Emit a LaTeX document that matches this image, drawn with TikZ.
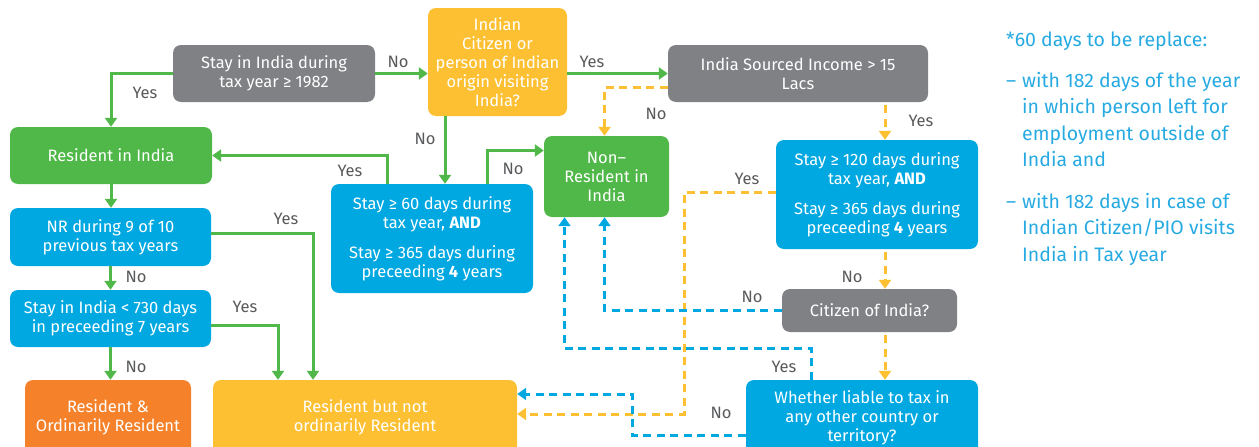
\documentclass[tikz,border=0pt]{standalone}
\usepackage{fontspec}
\setmainfont{Fira Sans}
\usetikzlibrary{arrows.meta}
\definecolor{boxgray}{HTML}{808184}
\definecolor{flowgreen}{HTML}{50B848}
\definecolor{flowyellow}{HTML}{FDC033}
\definecolor{flowblue}{HTML}{00A8E1}
\definecolor{floworange}{HTML}{F5822B}
\definecolor{lblgray}{HTML}{58595B}
\definecolor{noteblue}{HTML}{27AAE1}

\begin{document}
\begin{tikzpicture}[x=1pt, y=-1pt,
            box/.style = {rounded corners=8pt, text=white, align=center, inner sep=1pt,
                          font=\fontsize{16.5}{19}\selectfont},
            lbl/.style = {text=lblgray, inner sep=0pt, font=\fontsize{16.5}{19}\selectfont},
            tip/.style = {-{Triangle[width=12pt,length=9pt]}},
            gline/.style = {tip, line width=3pt, draw=flowgreen},
            yline/.style = {tip, line width=3pt, draw=flowyellow, dash pattern=on 8pt off 5.5pt},
            bline/.style = {tip, line width=3pt, draw=flowblue, dash pattern=on 8pt off 5.5pt}
            ]
    \clip (0,0) rectangle (1259,447);

    % boxes
    \node[box, fill=boxgray, minimum width=202pt, minimum height=57pt] (stayyear) at (274,73.5)
        {Stay in India during\\tax year ≥ 1982};
    \node[box, fill=flowyellow, minimum width=139pt, minimum height=108pt] (citizen) at (497.5,62)
        {Indian\\Citizen or\\person of Indian\\origin visiting\\India?};
    \node[box, fill=boxgray, minimum width=260pt, minimum height=57pt] (income) at (798,73.5)
        {India Sourced Income > 15\\Lacs};
    \node[box, fill=flowgreen, minimum width=202pt, minimum height=57pt] (resident) at (111,155.5)
        {Resident in India};
    \node[box, fill=flowblue, minimum width=202pt, minimum height=109pt] (stay60) at (432,238.5)
        {Stay ≥ 60 days during\\tax year, \textbf{AND}\\[11pt]Stay ≥ 365 days during\\preceeding \textbf{4} years};
    \node[box, fill=flowgreen, minimum width=125pt, minimum height=81pt] (nonres) at (606.5,176.5)
        {Non–\\Resident in\\India};
    \node[box, fill=flowblue, minimum width=202pt, minimum height=109pt] (stay120) at (877,194.5)
        {Stay ≥ 120 days during\\tax year, \textbf{AND}\\[11pt]Stay ≥ 365 days during\\preceeding \textbf{4} years};
    \node[box, fill=flowblue, minimum width=201pt, minimum height=58pt] (nrnine) at (110.5,237)
        {NR during 9 of 10\\previous tax years};
    \node[box, fill=flowblue, minimum width=201pt, minimum height=57pt] (stay730) at (110.5,318.5)
        {Stay in India < 730 days\\in preceeding 7 years};
    \node[box, fill=floworange, minimum width=166pt, minimum height=75pt] (ror) at (108,417.5)
        {Resident \&\\Ordinarily Resident};
    \node[box, fill=flowyellow, minimum width=304pt, minimum height=75pt] (rnor) at (365,417.5)
        {Resident but not\\ordinarily Resident};
    \node[box, fill=boxgray, minimum width=175pt, minimum height=43pt] (citindia) at (869.5,310.5)
        {Citizen of India?};
    \node[box, fill=flowblue, minimum width=232pt, minimum height=76pt] (liable) at (862,418)
        {Whether liable to tax in\\any other country or\\territory?};

    % turning points
    \coordinate (yturn) at (684,414);
    \coordinate (bturn) at (600,348);
    \coordinate (bno) at (632,394);

    % green connectors
    \draw[gline] (stayyear.west) -| (resident.north);
    \draw[gline] (stayyear.east) -- (stayyear.east -| citizen.west);
    \draw[gline] (income.west -| citizen.east) -- (income.west);
    \draw[gline] ([xshift=13pt]stay60.north |- citizen.south) -- ([xshift=13pt]stay60.north);
    \draw[gline] ([xshift=-45pt]stay60.north) |- (resident.east);
    \draw[gline] ([xshift=55pt]stay60.north) |- ([yshift=26pt]nonres.west);
    \draw[gline] (resident.south) -- (resident.south |- nrnine.north);
    \draw[gline] ([yshift=4pt]nrnine.east) -| ([xshift=-52pt]rnor.north);
    \draw[gline] (nrnine.south) -- (nrnine.south |- stay730.north);
    \draw[gline] ([yshift=-7pt]stay730.east) -| ([xshift=-87pt]rnor.north);
    \draw[gline] (stay730.south) -- (stay730.south |- ror.north);

    % yellow connectors
    \draw[yline] ([yshift=-14pt]income.west) -| ([xshift=-2pt]nonres.north);
    \draw[yline] ([xshift=8pt,yshift=-3pt]stay120.north |- income.south) -- ([xshift=8pt]stay120.north);
    \draw[yline] ([yshift=2pt]stay120.west) -| (yturn) -- (yturn -| rnor.east);
    \draw[yline] ([xshift=8pt,yshift=-3pt]stay120.south) -- ([xshift=8pt]stay120.south |- citindia.north);
    \draw[yline] ([xshift=15.5pt,yshift=-3pt]citindia.south) -- ([xshift=23pt]liable.north);

    % blue connectors
    \draw[bline] (citindia.west) -| ([xshift=-2pt]nonres.south);
    \draw[bline] ([xshift=-51pt]liable.north) |- (bturn) -| ([xshift=-42pt]nonres.south);
    \draw[bline] ([yshift=-17pt]liable.west) -| (bno) -- (bno -| rnor.east);

    % answers
    \node[lbl] (l1) at (145,93) {Yes};
    \node[lbl] (l2) at (398,62) {No};
    \node[lbl] (l3) at (592,62) {Yes};
    \node[lbl] (l4) at (425,139) {No};
    \node[lbl] (l5) at (350,171) {Yes};
    \node[lbl] (l6) at (513,169) {No};
    \node[lbl] (l7) at (286,219) {Yes};
    \node[lbl] (l8) at (136,277) {No};
    \node[lbl] (l9) at (245,307) {Yes};
    \node[lbl] (l10) at (136,367) {No};
    \node[lbl] (l11) at (656,114) {No};
    \node[lbl] (l12) at (921,121) {Yes};
    \node[lbl] (l13) at (747,179) {Yes};
    \node[lbl] (l14) at (852,277) {No};
    \node[lbl] (l15) at (752,297) {No};
    \node[lbl] (l16) at (784,367) {Yes};
    \node[lbl] (l17) at (721,413) {No};

    % note
    \node[anchor=north west, align=left, text=noteblue, inner sep=0pt,
          font=\fontsize{19.5}{26.5}\selectfont] (note) at (1006,32)
        {*60 days to be replace:\\[14pt]
         \makebox[16pt][l]{–}with 182 days of the year\\
         \hspace*{16pt}in which person left for\\
         \hspace*{16pt}employment outside of\\
         \hspace*{16pt}India and\\[15pt]
         \makebox[16pt][l]{–}with 182 days in case of\\
         \hspace*{16pt}Indian Citizen/PIO visits\\
         \hspace*{16pt}India in Tax year};
\end{tikzpicture}
\end{document}
